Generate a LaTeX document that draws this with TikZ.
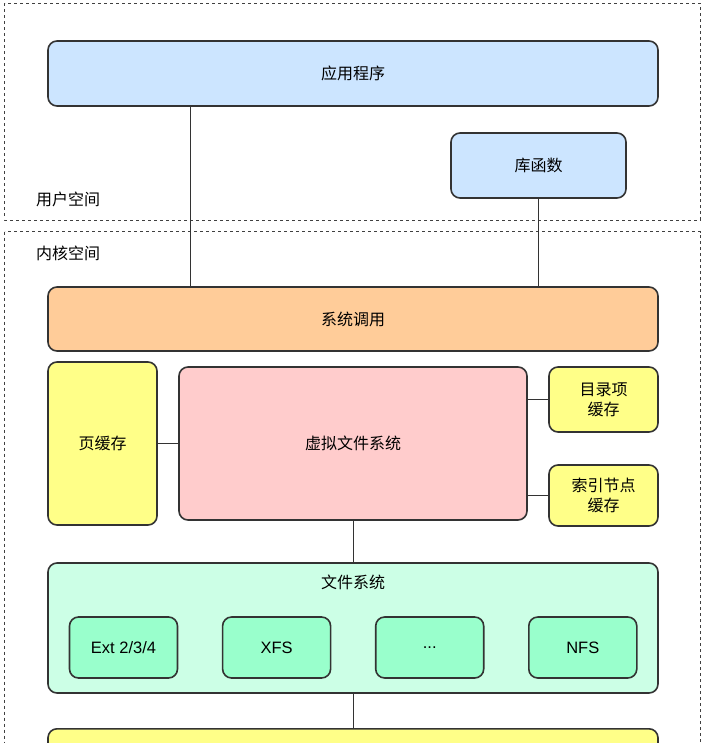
\documentclass[tikz,border=0pt]{standalone}
\usepackage{fontspec}
\setmainfont{Noto Sans CJK SC}
\newfontfamily\latinfont{Liberation Sans}
\usetikzlibrary{positioning}

\definecolor{appblue}{HTML}{CCE5FF}
\definecolor{sysorange}{HTML}{FFCC99}
\definecolor{cacheyellow}{HTML}{FFFF88}
\definecolor{vfspink}{HTML}{FFCCCC}
\definecolor{fsgreen}{HTML}{CCFFE6}
\definecolor{fsinner}{HTML}{99FFCC}
\definecolor{edge}{HTML}{333333}

\tikzset{
  blk/.style={draw=edge,line width=1.6pt,rounded corners=9pt,font=\fontsize{16}{20}\selectfont,align=center,inner sep=0pt},
  fsbox/.style={blk,fill=fsinner,minimum width=108pt,minimum height=61pt,font=\fontsize{16.5}{20}\selectfont\latinfont},
  region/.style={draw=black!75,dashed,line width=0.6pt},
  spacelbl/.style={anchor=west,font=\fontsize{16}{20}\selectfont,inner sep=0pt},
  link/.style={draw=edge,line width=1pt}
}

\begin{document}
\begin{tikzpicture}[x=1pt,y=-1pt]
\useasboundingbox (0,0) rectangle (702,743);
\clip (0,0) rectangle (702,743);
% user space / kernel space
\draw[region] (4.5,3.5) rectangle (700,220);
\draw[region] (4.5,231.5) rectangle (700,760);
\node[spacelbl](user) at (36,199){用户空间};
\node[spacelbl](kernel) at (36,253){内核空间};

\node(app)[blk,fill=appblue,minimum width=610pt,minimum height=65pt] at (353,73.5){应用程序};
\node(lib)[blk,fill=appblue,minimum width=175pt,minimum height=65pt] at (538.5,165.5){库函数};
\node(sys)[blk,fill=sysorange,minimum width=610pt,minimum height=64pt] at (353,319){系统调用};

\node(vfs)[blk,fill=vfspink,minimum width=348pt,minimum height=153pt] at (353,443.5){虚拟文件系统};
\node(page)[blk,fill=cacheyellow,minimum width=109pt,minimum height=163pt] at (102.5,443.5){页缓存};
\node(dentry)[blk,fill=cacheyellow,minimum width=109pt,minimum height=65pt] at (603.5,399.5){目录项\\缓存};
\node(inode)[blk,fill=cacheyellow,minimum width=109pt,minimum height=61pt] at (603.5,495.5){索引节点\\缓存};

\node(fs)[blk,fill=fsgreen,minimum width=610pt,minimum height=130pt] at (353,628){};
\node(fstitle)[font=\fontsize{16}{20}\selectfont,inner sep=0pt] at (353,582){文件系统};
\node(ext)[fsbox] at (123.5,647.5){Ext 2/3/4};
\node(xfs)[fsbox,right=43.5pt of ext]{XFS};
\node(more)[fsbox,right=43.5pt of xfs]{...};
\node(nfs)[fsbox,right=43.5pt of more]{NFS};

\node(bottom)[blk,fill=cacheyellow,minimum width=610pt,minimum height=64pt,anchor=north] at (353,728){};

\draw[link](app.south -| 190,0)--(sys.north -| 190,0);
\draw[link](lib.south)--(lib.south |- sys.north);
\draw[link](vfs.west)--(vfs.west -| page.east);
\draw[link](dentry.west)--(dentry.west -| vfs.east);
\draw[link](inode.west)--(inode.west -| vfs.east);
\draw[link](vfs.south)--(fs.north);
\draw[link](fs.south)--(bottom.north);
\end{tikzpicture}
\end{document}
